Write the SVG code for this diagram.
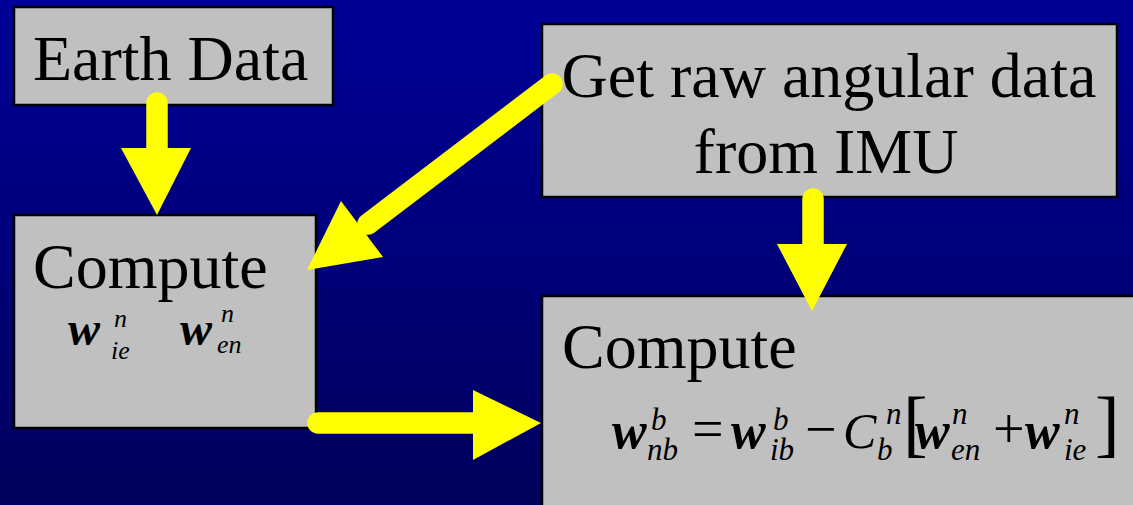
<svg xmlns="http://www.w3.org/2000/svg" width="1133" height="505" viewBox="0 0 1133 505">
<defs>
<linearGradient id="bg" x1="0" y1="0" x2="0" y2="1">
<stop offset="0" stop-color="#000098"/>
<stop offset="1" stop-color="#00005c"/>
</linearGradient>
<style>
text{font-family:'Liberation Serif','Times New Roman','DejaVu Serif',serif;fill:#000}
.box{fill:#c0c0c0;stroke:#000;stroke-width:2.5}
.t{font-size:64px}
.w{font-weight:bold;font-style:italic}
.i{font-style:italic}
.shaft{stroke:#ffff00;stroke-width:21.5;stroke-linecap:round;fill:none}
.head{fill:#ffff00}
</style>
</defs>
<rect x="0" y="0" width="1133" height="505" fill="url(#bg)"/>

<g id="earth-data">
<rect class="box" x="14" y="7" width="319" height="98"/>
<text class="t" x="33" y="80" font-family="Liberation Serif, serif">Earth Data</text>
</g>

<g id="get-raw">
<rect class="box" x="542" y="24" width="575" height="173"/>
<text class="t" x="829" y="97" text-anchor="middle" font-family="Liberation Serif, serif">Get raw angular data</text>
<text class="t" x="826" y="173" text-anchor="middle" font-family="Liberation Serif, serif">from IMU</text>
</g>

<g id="compute-left" font-family="Liberation Serif, serif">
<rect class="box" x="14" y="215" width="302" height="213"/>
<text class="t" x="33" y="288">Compute</text>
<text class="w" x="68" y="345" font-size="48">w</text>
<text class="i" x="114" y="327" font-size="26">n</text>
<text class="i" x="111" y="359" font-size="26">ie</text>
<text class="w" x="180" y="345" font-size="48">w</text>
<text class="i" x="221" y="322" font-size="26">n</text>
<text class="i" x="217" y="353" font-size="26">en</text>
</g>

<g id="compute-right" font-family="Liberation Serif, serif">
<rect class="box" x="542" y="296" width="600" height="220"/>
<text class="t" x="562" y="368">Compute</text>
<text class="w" x="612" y="448" font-size="52">w</text>
<text class="i" x="651" y="430" font-size="31">b</text>
<text class="i" x="647" y="460" font-size="31">nb</text>
<text x="692" y="448" font-size="56">=</text>
<text class="w" x="731" y="448" font-size="52">w</text>
<text class="i" x="773" y="430" font-size="31">b</text>
<text class="i" x="770" y="460" font-size="31">ib</text>
<text x="805" y="448" font-size="56">−</text>
<text class="i" x="843" y="448" font-size="50">C</text>
<text class="i" x="886" y="424" font-size="31">n</text>
<text class="i" x="877" y="460" font-size="31">b</text>
<text x="903" y="448" font-size="74">[</text>
<text class="w" x="915" y="448" font-size="52">w</text>
<text class="i" x="952" y="424" font-size="31">n</text>
<text class="i" x="951" y="460" font-size="31">en</text>
<text x="993" y="448" font-size="56">+</text>
<text class="w" x="1025" y="448" font-size="52">w</text>
<text class="i" x="1064" y="424" font-size="31">n</text>
<text class="i" x="1064" y="460" font-size="31">ie</text>
<text x="1095" y="448" font-size="74">]</text>
</g>

<g id="connectors">
<line class="shaft" x1="157" y1="103" x2="157" y2="155"/>
<polygon class="head" points="121,148 191,148 157,215"/>
<line class="shaft" x1="552" y1="84" x2="368" y2="224"/>
<polygon class="head" points="341,201 383,257 307,270"/>
<line class="shaft" x1="813" y1="199" x2="813" y2="250"/>
<polygon class="head" points="777,244 847,244 812,311"/>
<line class="shaft" x1="318" y1="423" x2="480" y2="423"/>
<polygon class="head" points="473,390 473,460 541,423"/>
</g>
</svg>
